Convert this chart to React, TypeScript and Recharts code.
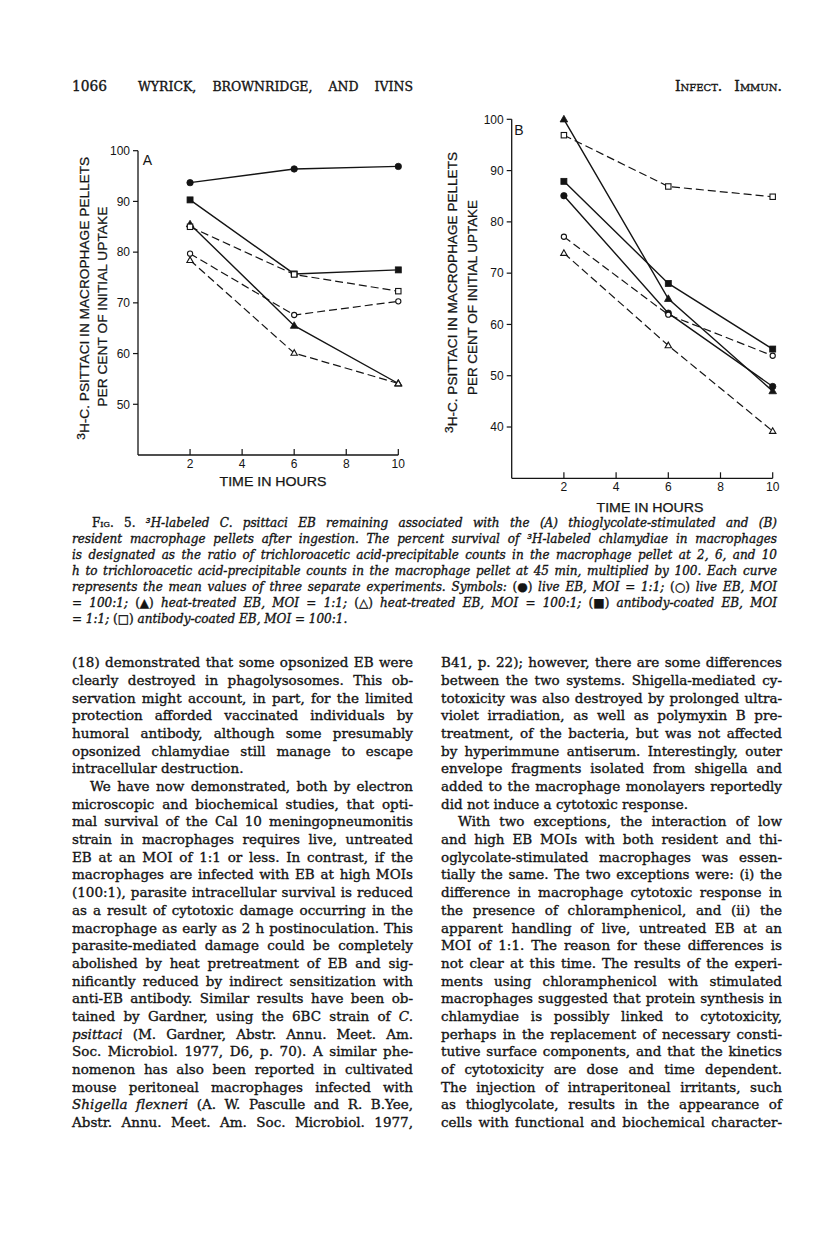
import React, { useLayoutEffect, useRef } from 'react';
import { LineChart, Line, XAxis, YAxis, Label } from 'recharts';

// ---------- data ----------
const TIMES = [2, 6, 10];
const X_TICKS = [2, 4, 6, 8, 10];
const A_Y_TICKS = [50, 60, 70, 80, 90, 100];
const B_Y_TICKS = [40, 50, 60, 70, 80, 90, 100];

// Panel A (thioglycolate-stimulated)
const A_LIVE_1 = [93.7, 96.4, 96.9];
const A_LIVE_100 = [79.7, 67.6, 70.3];
const A_HEAT_1 = [85.5, 65.5, 54.1];
const A_HEAT_100 = [78.4, 60.1, 54.1];
const A_AB_1 = [90.3, 75.7, 76.5];
const A_AB_100 = [85.0, 75.6, 72.3];

// Panel B (resident)
const B_LIVE_1 = [85.1, 62.2, 47.9];
const B_LIVE_100 = [77.1, 61.9, 53.9];
const B_HEAT_1 = [100, 65.0, 47.0];
const B_HEAT_100 = [73.9, 55.9, 39.2];
const B_AB_1 = [87.9, 68.0, 55.2];
const B_AB_100 = [96.9, 86.9, 84.9];

const Y_TITLE_1 = 'H-C. PSITTACI IN MACROPHAGE PELLETS';
const Y_TITLE_2 = 'PER CENT OF INITIAL UPTAKE';
const X_TITLE = 'TIME IN HOURS';

const HEADER_LEFT = 'WYRICK, BROWNRIDGE, AND IVINS';
const HEADER_RIGHT = 'Infect. Immun.';
const PAGE_NO = '1066';

// caption: '|' toggles upright (non-italic) segments
const CAPTION = [
  '|Fig. 5.| ³H-labeled C. psittaci EB remaining associated with the (A) thioglycolate-stimulated and (B)',
  'resident macrophage pellets after ingestion. The percent survival of ³H-labeled chlamydiae in macrophages',
  'is designated as the ratio of trichloroacetic acid-precipitable counts in the macrophage pellet at 2, 6, and 10',
  'h to trichloroacetic acid-precipitable counts in the macrophage pellet at 45 min, multiplied by 100. Each curve',
  'represents the mean values of three separate experiments. Symbols: |(●)| live EB, MOI = 1:1; |(○)| live EB, MOI',
  '= 100:1; |(▲)| heat-treated EB, MOI = 1:1; |(△)| heat-treated EB, MOI = 100:1; |(■)| antibody-coated EB, MOI',
  '= 1:1; |(□)| antibody-coated EB, MOI = 100:1.',
];

// body: '_' toggles italic
const LEFT_COL = [
  '(18) demonstrated that some opsonized EB were',
  'clearly destroyed in phagolysosomes. This ob-',
  'servation might account, in part, for the limited',
  'protection afforded vaccinated individuals by',
  'humoral antibody, although some presumably',
  'opsonized chlamydiae still manage to escape',
  'intracellular destruction.',
  'We have now demonstrated, both by electron',
  'microscopic and biochemical studies, that opti-',
  'mal survival of the Cal 10 meningopneumonitis',
  'strain in macrophages requires live, untreated',
  'EB at an MOI of 1:1 or less. In contrast, if the',
  'macrophages are infected with EB at high MOIs',
  '(100:1), parasite intracellular survival is reduced',
  'as a result of cytotoxic damage occurring in the',
  'macrophage as early as 2 h postinoculation. This',
  'parasite-mediated damage could be completely',
  'abolished by heat pretreatment of EB and sig-',
  'nificantly reduced by indirect sensitization with',
  'anti-EB antibody. Similar results have been ob-',
  'tained by Gardner, using the 6BC strain of _C._',
  '_psittaci_ (M. Gardner, Abstr. Annu. Meet. Am.',
  'Soc. Microbiol. 1977, D6, p. 70). A similar phe-',
  'nomenon has also been reported in cultivated',
  'mouse peritoneal macrophages infected with',
  '_Shigella flexneri_ (A. W. Pasculle and R. B.Yee,',
  'Abstr. Annu. Meet. Am. Soc. Microbiol. 1977,',
];
const LEFT_LAST = [6];
const LEFT_INDENT = [7];

const RIGHT_COL = [
  'B41, p. 22); however, there are some differences',
  'between the two systems. Shigella-mediated cy-',
  'totoxicity was also destroyed by prolonged ultra-',
  'violet irradiation, as well as polymyxin B pre-',
  'treatment, of the bacteria, but was not affected',
  'by hyperimmune antiserum. Interestingly, outer',
  'envelope fragments isolated from shigella and',
  'added to the macrophage monolayers reportedly',
  'did not induce a cytotoxic response.',
  'With two exceptions, the interaction of low',
  'and high EB MOIs with both resident and thi-',
  'oglycolate-stimulated macrophages was essen-',
  'tially the same. The two exceptions were: (i) the',
  'difference in macrophage cytotoxic response in',
  'the presence of chloramphenicol, and (ii) the',
  'apparent handling of live, untreated EB at an',
  'MOI of 1:1. The reason for these differences is',
  'not clear at this time. The results of the experi-',
  'ments using chloramphenicol with stimulated',
  'macrophages suggested that protein synthesis in',
  'chlamydiae is possibly linked to cytotoxicity,',
  'perhaps in the replacement of necessary consti-',
  'tutive surface components, and that the kinetics',
  'of cytotoxicity are dose and time dependent.',
  'The injection of intraperitoneal irritants, such',
  'as thioglycolate, results in the appearance of',
  'cells with functional and biochemical character-',
];
const RIGHT_LAST = [8];
const RIGHT_INDENT = [9];

// ---------- helpers ----------
const INK = '#141414';
const SERIF = '"DejaVu Serif", "Liberation Serif", serif';
const SANS = '"Liberation Sans", Arial, sans-serif';

type JProps = {
  x: number; y: number; w: number; lh: number; fs: number;
  justify?: boolean; children: React.ReactNode; style?: React.CSSProperties;
};

function JLine({ x, y, w, lh, fs, justify = true, children, style }: JProps) {
  const ref = useRef<HTMLSpanElement>(null);
  useLayoutEffect(() => {
    const el = ref.current;
    if (!el) return;
    el.style.wordSpacing = '0px';
    el.style.transform = 'none';
    const nat = el.getBoundingClientRect().width;
    const spaces = ((el.textContent || '').match(/ /g) || []).length;
    if (nat > w) {
      el.style.transform = `scaleX(${w / nat})`;
    } else if (justify && spaces > 0) {
      el.style.wordSpacing = `${(w - nat) / spaces}px`;
    }
  }, [w, justify]);
  return (
    <div
      style={{
        position: 'absolute', left: x, top: y - lh / 2, height: lh, lineHeight: `${lh}px`,
        whiteSpace: 'pre', fontSize: fs, fontFamily: SERIF, color: INK,
        WebkitTextStroke: `0.35px ${INK}`, ...style,
      }}
    >
      <span ref={ref} style={{ display: 'inline-block', transformOrigin: '0 50%' }}>{children}</span>
    </div>
  );
}

function bodySegments(s: string) {
  return s.split('_').map((t, i) => (
    <span key={i} style={{ fontStyle: i % 2 === 1 ? 'italic' : 'normal' }}>{t}</span>
  ));
}

function captionSegments(s: string) {
  return s.split('|').map((t, i) => (
    <span key={i} style={i % 2 === 1 ? { fontStyle: 'normal', fontVariant: 'small-caps' } : { fontStyle: 'italic' }}>{t}</span>
  ));
}

// ---------- markers ----------
function Marker({ cx, cy, kind }: { cx: number; cy: number; kind: string }) {
  if (cx == null || cy == null) return null;
  const open = kind.startsWith('open');
  const fill = open ? '#fff' : INK;
  const sw = open ? 1.1 : 0.8;
  if (kind.endsWith('Circle')) {
    return <circle cx={cx} cy={cy} r={open ? 2.6 : 3.2} fill={fill} stroke={INK} strokeWidth={sw} />;
  }
  if (kind.endsWith('Square')) {
    const s = open ? 5.4 : 6;
    return <rect x={cx - s / 2} y={cy - s / 2} width={s} height={s} fill={fill} stroke={INK} strokeWidth={sw} />;
  }
  const h = open ? 5.6 : 6.6;
  const half = open ? 3.2 : 3.8;
  return (
    <polygon
      points={`${cx},${cy - h * 0.6} ${cx - half},${cy + h * 0.4} ${cx + half},${cy + h * 0.4}`}
      fill={fill} stroke={INK} strokeWidth={sw} strokeLinejoin="miter"
    />
  );
}

const XTick = (props: any) => {
  const { x, y, payload } = props;
  return (
    <g>
      <line x1={x} x2={x} y1={y} y2={y - 6} stroke={INK} strokeWidth={1.2} />
      <text x={x} y={y + 13} textAnchor="middle" fontSize={12} fontFamily={SANS} fill={INK}>
        {payload.value}
      </text>
    </g>
  );
};

type SeriesDef = { key: string; values: number[]; kind: string; dashed: boolean };

type PanelProps = {
  left: number; top: number; width: number; height: number;
  margin: { top: number; right: number; bottom: number; left: number };
  yWidth: number; xHeight: number; yDomain: [number, number]; yTicks: number[];
  series: SeriesDef[]; letter: string; letterPos: [number, number];
  t1: [number, number, number]; t2: [number, number, number]; xt: [number, number];
};

function Panel(p: PanelProps) {
  const data = TIMES.map((t, i) => {
    const row: any = { t };
    p.series.forEach((s) => { row[s.key] = s.values[i]; });
    return row;
  });
  const yTitle = () => (
    <g fontFamily={SANS} fill={INK}>
      <text
        x={p.t1[0]} y={p.t1[1]} transform={`rotate(-90 ${p.t1[0]} ${p.t1[1]})`}
        textAnchor="middle" dominantBaseline="central" fontSize={12.5}
        textLength={p.t1[2]} lengthAdjust="spacingAndGlyphs" stroke={INK} strokeWidth={0.25}
      >
        <tspan fontSize={11} dy={-4}>3</tspan><tspan dy={4}>{Y_TITLE_1}</tspan>
      </text>
      <text
        x={p.t2[0]} y={p.t2[1]} transform={`rotate(-90 ${p.t2[0]} ${p.t2[1]})`}
        textAnchor="middle" dominantBaseline="central" fontSize={12.5}
        textLength={p.t2[2]} lengthAdjust="spacingAndGlyphs" stroke={INK} strokeWidth={0.25}
      >
        {Y_TITLE_2}
      </text>
      <text x={p.letterPos[0]} y={p.letterPos[1]} textAnchor="middle" dominantBaseline="central" fontSize={14}>
        {p.letter}
      </text>
    </g>
  );
  const xTitle = () => (
    <text
      x={p.xt[0]} y={p.xt[1]} textAnchor="middle" dominantBaseline="central"
      fontSize={12.5} fontFamily={SANS} fill={INK} textLength={107} lengthAdjust="spacingAndGlyphs"
      stroke={INK} strokeWidth={0.25}
    >
      {X_TITLE}
    </text>
  );
  return (
    <div style={{ position: 'absolute', left: p.left, top: p.top }}>
      <LineChart width={p.width} height={p.height} data={data} margin={p.margin}>
        <XAxis
          dataKey="t" type="number" domain={[0, 10]} ticks={X_TICKS}
          height={p.xHeight} tickSize={0} tickMargin={0} tickLine={false}
          axisLine={{ stroke: INK, strokeWidth: 1.3 }} tick={<XTick />} interval={0}
        >
          <Label content={xTitle} />
        </XAxis>
        <YAxis
          type="number" domain={p.yDomain} ticks={p.yTicks} width={p.yWidth}
          tickSize={5} tickMargin={3} interval={0}
          axisLine={{ stroke: INK, strokeWidth: 1.3 }} tickLine={{ stroke: INK, strokeWidth: 1.2 }}
          tick={{ fontSize: 12, fontFamily: SANS, fill: INK }}
        >
          <Label content={yTitle} />
        </YAxis>
        {p.series.map((s) => (
          <Line
            key={s.key}
            dataKey={s.key}
            type="linear"
            stroke={INK}
            strokeWidth={s.dashed ? 1.2 : 1.4}
            strokeDasharray={s.dashed ? '8 4' : undefined}
            isAnimationActive={false}
            activeDot={false}
            dot={(d: any) => <Marker key={`${s.key}-${d.index}`} cx={d.cx} cy={d.cy} kind={s.kind} />}
          />
        ))}
      </LineChart>
    </div>
  );
}

const seriesA: SeriesDef[] = [
  { key: 'live1', values: A_LIVE_1, kind: 'filledCircle', dashed: false },
  { key: 'ab1', values: A_AB_1, kind: 'filledSquare', dashed: false },
  { key: 'heat1', values: A_HEAT_1, kind: 'filledTriangle', dashed: false },
  { key: 'ab100', values: A_AB_100, kind: 'openSquare', dashed: true },
  { key: 'live100', values: A_LIVE_100, kind: 'openCircle', dashed: true },
  { key: 'heat100', values: A_HEAT_100, kind: 'openTriangle', dashed: true },
];
const seriesB: SeriesDef[] = [
  { key: 'live1', values: B_LIVE_1, kind: 'filledCircle', dashed: false },
  { key: 'ab1', values: B_AB_1, kind: 'filledSquare', dashed: false },
  { key: 'heat1', values: B_HEAT_1, kind: 'filledTriangle', dashed: false },
  { key: 'ab100', values: B_AB_100, kind: 'openSquare', dashed: true },
  { key: 'live100', values: B_LIVE_100, kind: 'openCircle', dashed: true },
  { key: 'heat100', values: B_HEAT_100, kind: 'openTriangle', dashed: true },
];

export default function App() {
  const BODY_Y0 = 663;
  const BODY_LH = 17.69;
  const CAP_Y0 = 523;
  const CAP_LH = 16;
  return (
    <div style={{ position: 'absolute', left: 0, top: 0, width: 816, height: 1253, background: '#fff', overflow: 'hidden' }}>
      {/* running header */}
      <JLine x={72} y={86} w={35} lh={18} fs={14} justify={false}>{PAGE_NO}</JLine>
      <JLine x={138} y={87} w={275} lh={18} fs={12.5}>{HEADER_LEFT}</JLine>
      <JLine x={675} y={86} w={107} lh={18} fs={14} style={{ fontVariant: 'small-caps' }}>{HEADER_RIGHT}</JLine>

      {/* Panel A */}
      <Panel
        left={60} top={140} width={350} height={360}
        margin={{ top: 10.7, right: 11.7, bottom: 0, left: 0 }}
        yWidth={78} xHeight={45} yDomain={[40, 100]} yTicks={A_Y_TICKS}
        series={seriesA} letter="A" letterPos={[87.5, 20]}
        t1={[25, 158.3, 283]} t2={[43.3, 166.7, 200]} xt={[213, 341.7]}
      />
      {/* Panel B */}
      <Panel
        left={420} top={105} width={370} height={420}
        margin={{ top: 14.3, right: 17.3, bottom: 0, left: 0 }}
        yWidth={91.7} xHeight={46.7} yDomain={[30, 100]} yTicks={B_Y_TICKS}
        series={seriesB} letter="B" letterPos={[99, 25]}
        t1={[33, 187.5, 281]} t2={[53, 192.5, 195]} xt={[230, 403]}
      />

      {/* caption */}
      {CAPTION.map((line, i) => (
        <JLine
          key={`c${i}`} x={i === 0 ? 92 : 72} y={CAP_Y0 + i * CAP_LH} w={i === 0 ? 685 : 705}
          lh={CAP_LH} fs={12} justify={i !== CAPTION.length - 1}
        >
          {captionSegments(line)}
        </JLine>
      ))}

      {/* body columns */}
      {LEFT_COL.map((line, i) => {
        const ind = LEFT_INDENT.includes(i) ? 18 : 0;
        return (
          <JLine
            key={`l${i}`} x={72 + ind} y={BODY_Y0 + i * BODY_LH} w={341 - ind} lh={BODY_LH} fs={13.5}
            justify={!LEFT_LAST.includes(i)}
          >
            {bodySegments(line)}
          </JLine>
        );
      })}
      {RIGHT_COL.map((line, i) => {
        const ind = RIGHT_INDENT.includes(i) ? 17 : 0;
        return (
          <JLine
            key={`r${i}`} x={441 + ind} y={BODY_Y0 + i * BODY_LH} w={341 - ind} lh={BODY_LH} fs={13.5}
            justify={!RIGHT_LAST.includes(i)}
          >
            {bodySegments(line)}
          </JLine>
        );
      })}
    </div>
  );
}
